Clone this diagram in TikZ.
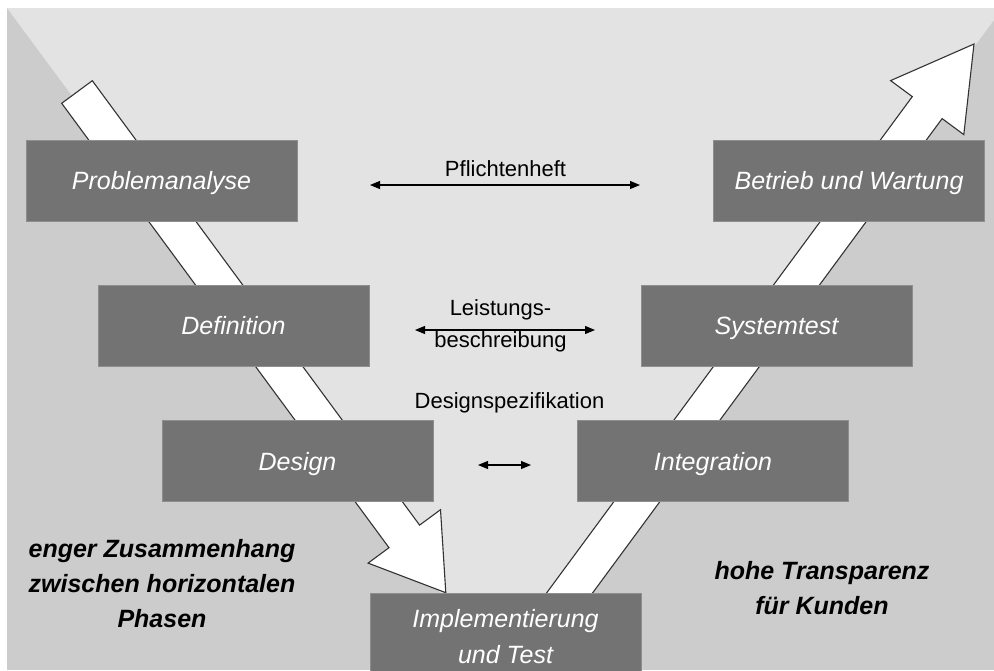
\documentclass[tikz,border=0pt]{standalone}
\usepackage{fontspec}
\setmainfont{Liberation Sans}
\usetikzlibrary{arrows.meta}

\definecolor{bglight}{HTML}{E3E3E3}
\definecolor{bgdark}{HTML}{CCCCCC}
\definecolor{boxgray}{HTML}{737373}
\definecolor{boxedge}{HTML}{8E8E8E}
\definecolor{flowline}{HTML}{333333}

\newcommand\phasefont{\fontsize{25}{36}\selectfont\itshape}
\newcommand\linkfont{\fontsize{22}{32}\selectfont}
\newcommand\notefont{\fontsize{25}{35}\selectfont\bfseries\itshape}

\tikzset{
  phasebase/.style={rectangle, fill=boxgray, draw=boxedge, line width=0.8pt,
    minimum width=271pt, inner sep=0pt, font=\phasefont, text=white},
  phase/.style={phasebase, minimum height=81pt, text height=18pt, text depth=0pt},
  flowarrow/.style={fill=white, draw=flowline, line width=1.1pt, line join=miter},
  link/.style={black, line width=1.1pt,
    {Triangle[length=10pt,width=8pt]}-{Triangle[length=10pt,width=8pt]}},
  linklabel/.style={font=\linkfont, text=black, inner sep=0pt, align=center},
  note/.style={font=\notefont, text=black, inner sep=0pt, align=center}
}

\begin{document}
\begin{tikzpicture}[x=1pt,y=-1pt]
\useasboundingbox (0,0) rectangle (994,670);
\clip (0,0) rectangle (994,670);

% background: white margin, grey field, lighter V
\fill[white] (0,0) rectangle (994,670);
\fill[bgdark] (7,8) rectangle (994,670);
\fill[bglight] (7,8) -- (994,8) -- (994,20) -- (504,679) -- cycle;

% descending flow arrow (specification side)
\draw[flowarrow] (92.3,80.7) -- (419.6,525.1) -- (440.5,509.7) -- (445.8,592.7)
  -- (368.1,563.1) -- (389.0,547.7) -- (61.7,103.3) -- cycle;

% ascending flow arrow (verification side)
\draw[flowarrow] (532.1,612.6) -- (912.3,96.6) -- (890.6,80.6) -- (974,44)
  -- (963.8,134.6) -- (942.1,118.6) -- (561.9,634.6) -- cycle;

% phases
\node[phase] (problem) at (161.5,180.5) {Problemanalyse};
\node[phase] (betrieb) at (849,180.5) {Betrieb und Wartung};
\node[phase] (definition) at (233.5,325.5) {Definition};
\node[phase] (systemtest) at (776.5,325.5) {Systemtest};
\node[phase] (design) at (297.5,461) {Design};
\node[phase] (integration) at (713,461) {Integration};
\node[phasebase, minimum height=87pt, align=center] (impl) at (505.5,636.5)
  {Implementierung\\und Test};

% links between corresponding phases
\coordinate (pL) at (370,185);
\coordinate (pR) at (640,185);
\coordinate (lL) at (415,330);
\coordinate (lR) at (595,330);
\coordinate (dL) at (478,465);
\coordinate (dR) at (531,465);
\draw[link] (pL) -- (pR);
\draw[link] (lL) -- (lR);
\draw[link] (dL) -- (dR);

\node[linklabel, anchor=base] (pflicht) at (505.5,176) {Pflichtenheft};
\node[linklabel] (leistung) at (500.5,326.2) {Leistungs-\\beschreibung};
\node[linklabel, anchor=base] (designspez) at (509.5,408) {Designspezifikation};

% remarks
\node[note] (zusammenhang) at (162,584) {enger Zusammenhang\\zwischen horizontalen\\Phasen};
\node[note] (transparenz) at (822,588) {hohe Transparenz\\für Kunden};
\end{tikzpicture}
\end{document}
